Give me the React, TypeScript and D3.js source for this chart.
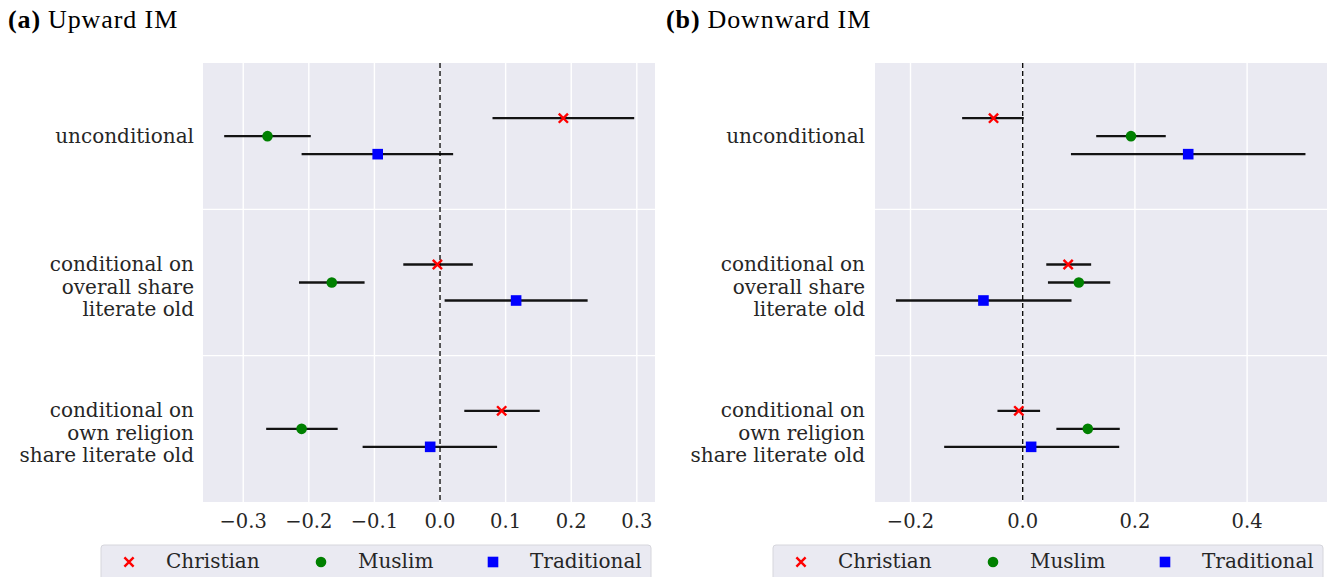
import React from "react";
import * as d3 from "d3";

const categories = ["unconditional", "cond_overall", "cond_own"];
const categoryLabels = [
  ["unconditional"],
  ["conditional on", "overall share", "literate old"],
  ["conditional on", "own religion", "share literate old"],
];
const series = ["Christian", "Muslim", "Traditional"];
const seriesColors = ["#ff0000", "#008000", "#0000ff"];

// Upward IM: [estimate, low, high] per category for each series
const upChristian = [[0.188, 0.080, 0.296], [-0.004, -0.056, 0.050], [0.094, 0.037, 0.152]];
const upMuslim = [[-0.263, -0.329, -0.197], [-0.165, -0.215, -0.115], [-0.211, -0.265, -0.156]];
const upTraditional = [[-0.095, -0.211, 0.020], [0.116, 0.007, 0.225], [-0.015, -0.118, 0.087]];

const downChristian = [[-0.052, -0.108, 0.002], [0.081, 0.042, 0.122], [-0.007, -0.045, 0.031]];
const downMuslim = [[0.193, 0.131, 0.255], [0.100, 0.045, 0.156], [0.116, 0.060, 0.173]];
const downTraditional = [[0.295, 0.086, 0.504], [-0.070, -0.226, 0.087], [0.015, -0.140, 0.172]];

const upTicks = [-0.3, -0.2, -0.1, 0.0, 0.1, 0.2, 0.3];
const downTicks = [-0.2, 0.0, 0.2, 0.4];

const fmt = (v: number) => (v < 0 ? "\u2212" : "") + Math.abs(v).toFixed(1);

const SERIF = "'DejaVu Serif', serif";
const legendOffsets = [28, 220, 392];

function Marker({ kind, x, y, color }: { kind: number; x: number; y: number; color: string }) {
  if (kind === 0) {
    const s = 4.6;
    return (
      <path
        d={`M${x - s},${y - s}L${x + s},${y + s}M${x - s},${y + s}L${x + s},${y - s}`}
        stroke={color}
        strokeWidth={2.4}
        fill="none"
      />
    );
  }
  if (kind === 1) return <circle cx={x} cy={y} r={5.3} fill={color} />;
  return <rect x={x - 5.3} y={y - 5.3} width={10.6} height={10.6} fill={color} />;
}

function Panel({
  left,
  right,
  domain,
  ticks,
  data,
  title,
  titleX,
  labelX,
}: {
  left: number;
  right: number;
  domain: [number, number];
  ticks: number[];
  data: number[][][];
  title: [string, string];
  titleX: number;
  labelX: number;
}) {
  const top = 63;
  const bottom = 502;
  const x = d3.scaleLinear().domain(domain).range([left, right]);
  const yBand = d3.scaleBand().domain(categories).range([top, bottom]);
  const yOff = d3.scalePoint().domain(series).range([-18, 18]);
  const bw = yBand.bandwidth();
  return (
    <g>
      <text
        x={titleX}
        y={28}
        fontFamily="'Liberation Serif', serif"
        fontSize={26}
        letterSpacing={0.9}
        fill="#000"
      >
        <tspan fontWeight="bold">{title[0]}</tspan>
        <tspan dx={7}>{title[1]}</tspan>
      </text>
      <rect x={left} y={top} width={right - left} height={bottom - top} fill="#eaeaf2" />
      {ticks.map((t) => (
        <line key={t} x1={x(t)} x2={x(t)} y1={top} y2={bottom} stroke="#fff" strokeWidth={1.4} />
      ))}
      {categories.slice(1).map((c) => (
        <line key={c} x1={left} x2={right} y1={yBand(c)!} y2={yBand(c)!} stroke="#fff" strokeWidth={1.4} />
      ))}
      <line x1={x(0)} x2={x(0)} y1={top} y2={bottom} stroke="#000" strokeWidth={1.3} strokeDasharray="5,3" />
      {data.map((ser, si) =>
        ser.map((d, ci) => {
          const cy = yBand(categories[ci])! + bw / 2 + yOff(series[si])!;
          return (
            <g key={`${si}-${ci}`}>
              <line x1={x(d[1])} x2={x(d[2])} y1={cy} y2={cy} stroke="#000" strokeWidth={2.4} strokeOpacity={0.92} />
              <Marker kind={si} x={x(d[0])} y={cy} color={seriesColors[si]} />
            </g>
          );
        })
      )}
      {ticks.map((t) => (
        <text key={t} x={x(t)} y={528} textAnchor="middle" fontFamily={SERIF} fontSize={19.5} fill="#262626">
          {fmt(t)}
        </text>
      ))}
      {categoryLabels.map((lines, ci) => {
        const cy = yBand(categories[ci])! + bw / 2;
        const lh = 22.5;
        const start = lines.length > 1 ? cy - lh + 4 : cy;
        return lines.map((ln, li) => (
          <text
            key={`${ci}-${li}`}
            x={labelX}
            y={start + li * lh + 7}
            textAnchor="end"
            fontFamily={SERIF}
            fontSize={20}
            fill="#262626"
          >
            {ln}
          </text>
        ));
      })}
    </g>
  );
}

function Legend({ x0, x1 }: { x0: number; x1: number }) {
  const w = x1 - x0;
  return (
    <g>
      <rect x={x0} y={545} width={w} height={40} rx={3} fill="#eaeaf2" stroke="#d6d6dc" strokeWidth={1} />
      {series.map((s, i) => {
        const mx = x0 + legendOffsets[i];
        return (
          <g key={s}>
            <Marker kind={i} x={mx} y={562} color={seriesColors[i]} />
            <text x={mx + 37} y={568} fontFamily={SERIF} fontSize={20} fill="#262626">
              {s}
            </text>
          </g>
        );
      })}
    </g>
  );
}

export default function App() {
  const up = [upChristian, upMuslim, upTraditional];
  const down = [downChristian, downMuslim, downTraditional];
  return (
    <svg
      width={1328}
      height={577}
      style={{ position: "absolute", left: 0, top: 0, background: "#fff" }}
    >
      <Panel
        left={203}
        right={655}
        domain={[-0.3613, 0.3277]}
        ticks={upTicks}
        data={up}
        title={["(a)", "Upward IM"]}
        titleX={8}
        labelX={194}
      />
      <Panel
        left={875}
        right={1327}
        domain={[-0.2633, 0.5424]}
        ticks={downTicks}
        data={down}
        title={["(b)", "Downward IM"]}
        titleX={666}
        labelX={865}
      />
      <Legend x0={101} x1={651} />
      <Legend x0={773} x1={1323} />
    </svg>
  );
}
